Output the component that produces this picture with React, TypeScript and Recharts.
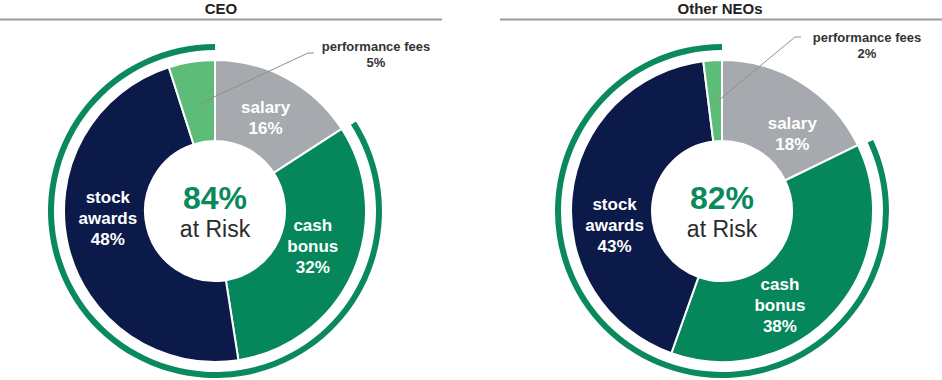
import { PieChart, Pie, Cell } from "recharts";

const parts = ["salary", "cash bonus", "stock awards", "performance fees"];
const ceoValues = [16, 32, 48, 5];
const neoValues = [18, 38, 43, 2];
const titles = ["CEO", "Other NEOs"];
const atRisk = [84, 82];

const COLORS = ["#a6a9ae", "#05875b", "#0b1a48", "#5dbd78"];
const GREEN = "#0a8a5c";
const FONT = "'Liberation Sans', Arial, sans-serif";
const RAD = Math.PI / 180;

const ceoData = parts.map((name, i) => ({ name, value: ceoValues[i] }));
const neoData = parts.map((name, i) => ({ name, value: neoValues[i] }));
const ringData = (salary: number, risk: number) => [
  { name: "fixed", value: salary },
  { name: "at risk", value: risk },
];

type Nudge = Record<string, [number, number]>;

// labels sit at r=106, nudged a bit like the original layout
function makeLabel(nudge: Nudge, elbow: [number, number], txt: [number, number]) {
  return (props: any) => {
    const { cx, cy, midAngle, name, value } = props;
    const r = 106;
    if (name === "performance fees") {
      const px = cx + 108 * Math.cos(-midAngle * RAD);
      const py = cy + 108 * Math.sin(-midAngle * RAD);
      const [ex, ey] = elbow;
      return (
        <g>
          <polyline
            points={`${px},${py} ${ex},${ey} ${ex + 6},${ey}`}
            fill="none"
            stroke="#8f8f8f"
            strokeWidth={1}
          />
          <text x={txt[0]} y={txt[1]} textAnchor="middle" fontFamily={FONT} fontSize={13} fontWeight="bold" fill="#333">
            <tspan x={txt[0]}>performance fees</tspan>
            <tspan x={txt[0]} dy={16}>{value}%</tspan>
          </text>
        </g>
      );
    }
    const [dx, dy] = nudge[name] || [0, 0];
    const x = cx + r * Math.cos(-midAngle * RAD) + dx;
    const y = cy + r * Math.sin(-midAngle * RAD) + dy;
    const lines = [...name.split(" "), `${value}%`];
    const y0 = y - ((lines.length - 1) * 21) / 2 + 6;
    return (
      <text x={x} y={y0} textAnchor="middle" fontFamily={FONT} fontSize={17} fontWeight="bold" fill="#fff">
        {lines.map((l, i) => (
          <tspan key={i} x={x} dy={i === 0 ? 0 : 21}>
            {l}
          </tspan>
        ))}
      </text>
    );
  };
}

const centers = [
  { cx: 215, cy: 211 },
  { cx: 722, cy: 211 },
];

export default function App() {
  return (
    <div style={{ position: "absolute", left: 0, top: 0, width: 942, height: 380, background: "#fff" }}>
      <PieChart width={942} height={380} margin={{ top: 0, right: 0, bottom: 0, left: 0 }}>
        {[ceoData, neoData].map((data, k) => (
          <Pie
            key={`donut${k}`}
            data={data}
            dataKey="value"
            nameKey="name"
            cx={centers[k].cx}
            cy={centers[k].cy}
            innerRadius={70}
            outerRadius={151}
            startAngle={90}
            endAngle={-270}
            stroke="#fff"
            strokeWidth={2}
            isAnimationActive={false}
            labelLine={false}
            label={
              k === 0
                ? makeLabel({ "cash bonus": [1, -8], "stock awards": [-4, -18] }, [308, 53], [376, 51])
                : makeLabel({ salary: [14, 12], "cash bonus": [-21, 23], "stock awards": [-2, 26] }, [795, 37], [867, 42])
            }
          >
            {data.map((d, i) => (
              <Cell key={d.name} fill={COLORS[i]} />
            ))}
          </Pie>
        ))}
        {[ceoValues, neoValues].map((vals, k) => (
          <Pie
            key={`ring${k}`}
            data={ringData(vals[0], atRisk[k])}
            dataKey="value"
            cx={centers[k].cx}
            cy={centers[k].cy}
            innerRadius={161}
            outerRadius={167}
            startAngle={90}
            endAngle={-270}
            stroke="none"
            isAnimationActive={false}
          >
            <Cell fill="transparent" />
            <Cell fill={GREEN} />
          </Pie>
        ))}
      </PieChart>
      <svg width={942} height={380} style={{ position: "absolute", left: 0, top: 0, pointerEvents: "none" }}>
        <text x={221} y={14} textAnchor="middle" fontFamily={FONT} fontSize={15} fontWeight="bold" fill="#222">
          {titles[0]}
        </text>
        <text x={720} y={14} textAnchor="middle" fontFamily={FONT} fontSize={15} fontWeight="bold" fill="#222">
          {titles[1]}
        </text>
        <line x1={0} y1={19.5} x2={442} y2={19.5} stroke="#9a9a9a" strokeWidth={2} />
        <line x1={500} y1={19.5} x2={942} y2={19.5} stroke="#9a9a9a" strokeWidth={2} />
        {centers.map((c, k) => (
          <g key={k}>
            <text x={c.cx} y={c.cy - 2} textAnchor="middle" fontFamily={FONT} fontSize={32} fontWeight="bold" fill={GREEN}>
              {atRisk[k]}%
            </text>
            <text x={c.cx} y={c.cy + 26} textAnchor="middle" fontFamily={FONT} fontSize={23} fill="#2b2b2b">
              at Risk
            </text>
          </g>
        ))}
      </svg>
    </div>
  );
}
